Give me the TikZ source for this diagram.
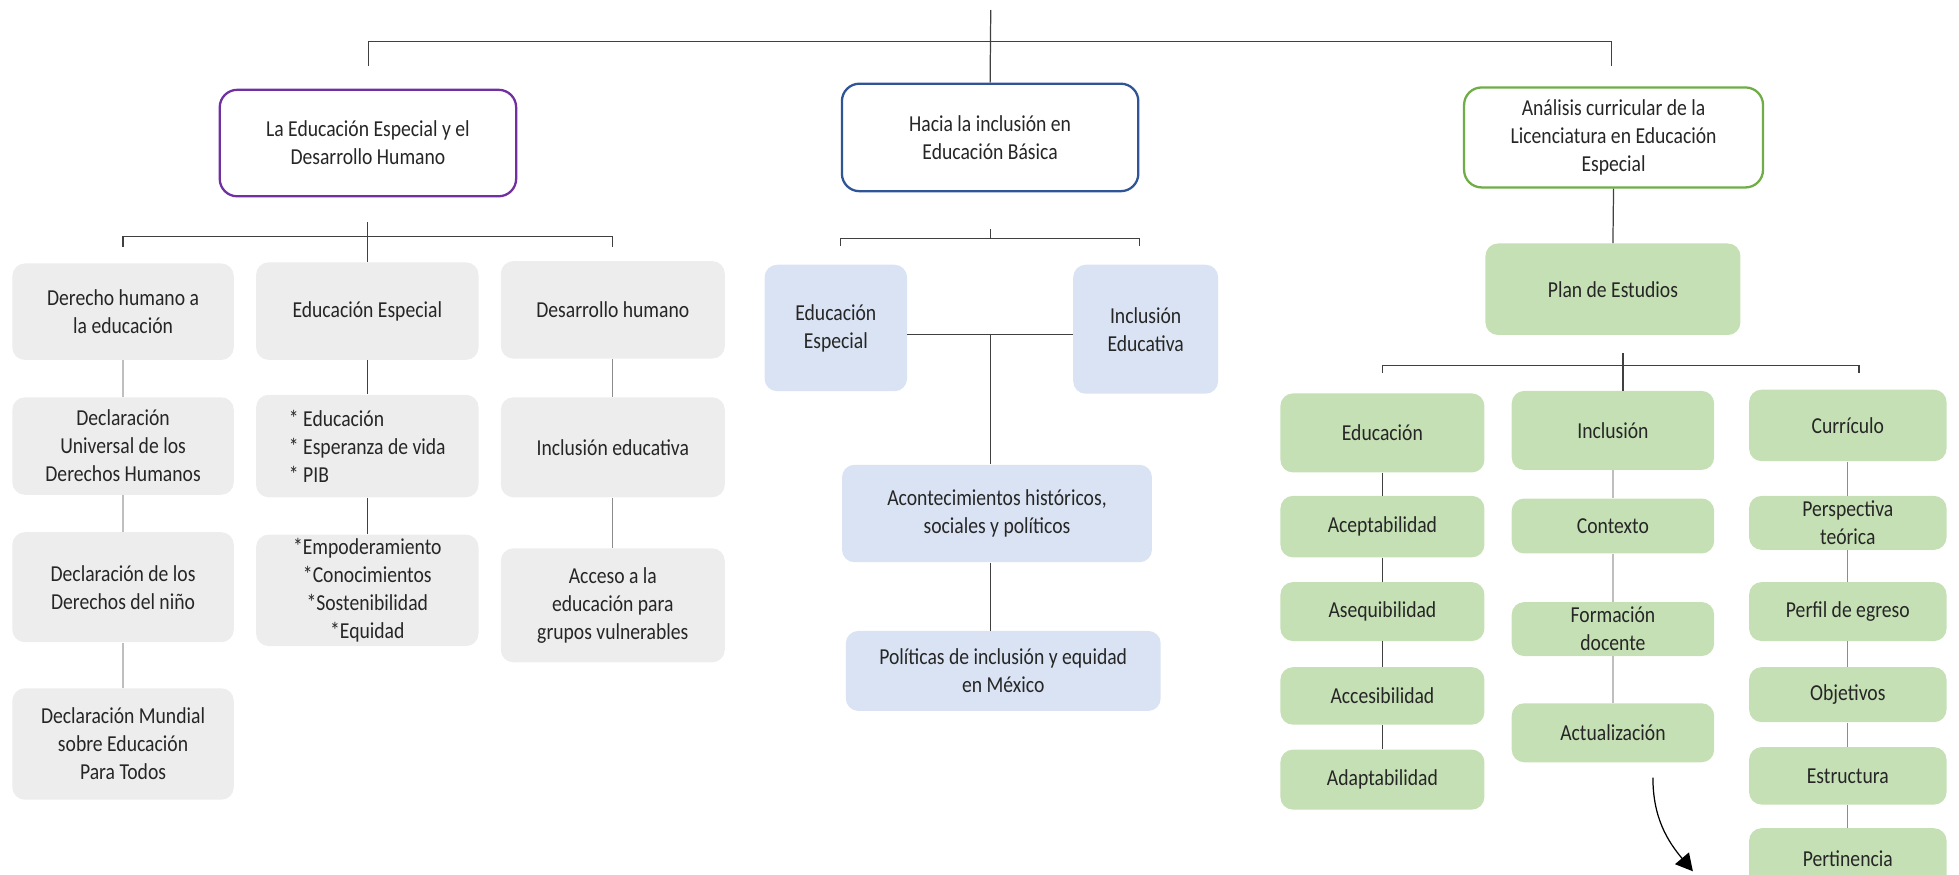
\documentclass[tikz,border=0pt]{standalone}
\usepackage{fontspec}
\setmainfont{Carlito}[FakeStretch=0.86]
\usetikzlibrary{arrows.meta}

\definecolor{grayfill}{HTML}{EDEDED}
\definecolor{bluefill}{HTML}{DAE3F3}
\definecolor{greenfill}{HTML}{C5E0B4}
\definecolor{purpleline}{HTML}{7030A0}
\definecolor{blueline}{HTML}{2F5597}
\definecolor{greenline}{HTML}{70AD47}
\definecolor{darklink}{HTML}{404040}
\definecolor{midlink}{HTML}{8C8C8C}
\definecolor{lightlink}{HTML}{BFBFBF}

\tikzset{
  box/.style={rounded corners=0.25cm, align=center, inner sep=1pt, text=black!85,
    font=\fontsize{13}{16}\selectfont},
  graybox/.style={box, fill=grayfill},
  bluebox/.style={box, fill=bluefill},
  greenbox/.style={box, fill=greenfill},
  framebox/.style={box, fill=white, line width=1.3pt, rounded corners=0.35cm},
  link/.style={draw=darklink, line width=0.7pt},
  linkmid/.style={draw=midlink, line width=0.7pt},
  linklight/.style={draw=lightlink, line width=0.7pt},
}

\begin{document}
\begin{tikzpicture}[x=0.025cm, y=-0.025cm]
    \useasboundingbox (0,0) rectangle (1568,700);
    \clip (0,0) rectangle (1568,700);

    % Three main topics
    \node[framebox, draw=purpleline, minimum width=5.93cm, minimum height=2.13cm] (edh) at (294.5,114.5) {La Educación Especial y el\\Desarrollo Humano};
    \node[framebox, draw=blueline, minimum width=5.93cm, minimum height=2.15cm] (hib) at (792.5,110) {Hacia la inclusión en\\Educación Básica};
    \node[framebox, draw=greenline, minimum width=5.98cm, minimum height=2.0cm] (acl) at (1291.5,110) {Análisis curricular de la\\Licenciatura en Educación\\Especial};

    % Top bracket
    \coordinate (top) at (793,8);
    \coordinate (barL) at (295,33);
    \coordinate (barR) at (1290,33);
    \draw[link] (top) -- (hib.north);
    \draw[link] ([yshift=-0.5cm]barL) -- (barL) -- (barR) -- ([yshift=-0.5cm]barR);

    % Left branch, gray boxes
    \node[graybox, minimum width=4.43cm, minimum height=1.93cm] (a1) at (98.5,249.5) {Derecho humano a\\la educación};
    \node[graybox, minimum width=4.43cm, minimum height=1.95cm] (a2) at (98.5,357) {Declaración\\Universal de los\\Derechos Humanos};
    \node[graybox, minimum width=4.43cm, minimum height=2.2cm] (a3) at (98.5,470) {Declaración de los\\Derechos del niño};
    \node[graybox, minimum width=4.43cm, minimum height=2.23cm] (a4) at (98.5,595.5) {Declaración Mundial\\sobre Educación\\Para Todos};
    \node[graybox, minimum width=4.45cm, minimum height=1.95cm] (b1) at (294,249) {Educación Especial};
    \node[graybox, minimum width=4.45cm, minimum height=2.05cm, align=left] (b2) at (294,357) {* Educación\\* Esperanza de vida\\* PIB};
    \node[graybox, minimum width=4.45cm, minimum height=2.23cm] (b3) at (294,472.5) {*Empoderamiento\\*Conocimientos\\*Sostenibilidad\\*Equidad};
    \node[graybox, minimum width=4.48cm, minimum height=1.95cm] (c1) at (490.5,248) {Desarrollo humano};
    \node[graybox, minimum width=4.48cm, minimum height=2.0cm] (c2) at (490.5,358) {Inclusión educativa};
    \node[graybox, minimum width=4.48cm, minimum height=2.28cm] (c3) at (490.5,484.5) {Acceso a la\\educación para\\grupos vulnerables};

    \draw[link] ([yshift=0.8cm]b1.north) -- (b1.north);
    \draw[link] ([yshift=0.33cm]a1.north) -- ([yshift=0.53cm]a1.north) -| ([yshift=0.28cm]c1.north);
    \foreach \u/\v in {a1/a2,a2/a3,a3/a4}
        \draw[linklight] (\u) -- (\v);
    \foreach \u/\v in {b1/b2,b2/b3}
        \draw[link] (\u) -- (\v);
    \foreach \u/\v in {c1/c2,c2/c3}
        \draw[linkmid] (\u) -- (\v);

    % Middle branch, blue boxes
    \node[bluebox, minimum width=2.85cm, minimum height=2.53cm] (m1) at (669,262.5) {Educación\\Especial};
    \node[bluebox, minimum width=2.9cm, minimum height=2.58cm] (m2) at (917,263.5) {Inclusión\\Educativa};
    \node[bluebox, minimum width=6.2cm, minimum height=1.95cm] (m3) at (798,411) {Acontecimientos históricos,\\sociales y políticos};
    \node[bluebox, minimum width=6.3cm, minimum height=1.6cm] (m4) at (803,537) {Políticas de inclusión y equidad\\en México};

    \draw[link] ([yshift=-0.73cm]hib.south) -- ([yshift=-0.93cm]hib.south);
    \draw[link] ([yshift=-1.08cm]hib.south west) -- ([yshift=-0.93cm]hib.south west) -- ([yshift=-0.93cm]hib.south east) -- ([yshift=-1.08cm]hib.south east);
    \coordinate (mline) at ([yshift=-0.13cm]m1.east);
    \draw[link] (mline) -- (mline -| m2.west);
    \draw[link] (mline -| hib.south) -- (m3.north -| hib.south);
    \draw[link] (m3.south -| hib.south) -- (m4.north -| hib.south);

    % Right branch, green boxes
    \node[greenbox, minimum width=5.1cm, minimum height=1.83cm] (plan) at (1291,231.5) {Plan de Estudios};
    \draw[link] (acl.south) -- (plan.north);

    \node[greenbox, minimum width=4.08cm, minimum height=1.58cm] (edu) at (1106.5,346.5) {Educación};
    \node[greenbox, minimum width=4.08cm, minimum height=1.23cm] (ace) at (1106.5,421.5) {Aceptabilidad};
    \node[greenbox, minimum width=4.08cm, minimum height=1.18cm] (ase) at (1106.5,489.5) {Asequibilidad};
    \node[greenbox, minimum width=4.08cm, minimum height=1.15cm] (acc) at (1106.5,557) {Accesibilidad};
    \node[greenbox, minimum width=4.08cm, minimum height=1.2cm] (ada) at (1106.5,624) {Adaptabilidad};

    \node[greenbox, minimum width=4.05cm, minimum height=1.58cm] (inc) at (1291,344.5) {Inclusión};
    \node[greenbox, minimum width=4.05cm, minimum height=1.1cm] (con) at (1291,421) {Contexto};
    \node[greenbox, minimum width=4.05cm, minimum height=1.08cm] (for) at (1291,503.5) {Formación\\docente};
    \node[greenbox, minimum width=4.05cm, minimum height=1.18cm] (act) at (1291,586.5) {Actualización};

    \node[greenbox, minimum width=3.95cm, minimum height=1.43cm] (cur) at (1479,340.5) {Currículo};
    \node[greenbox, minimum width=3.95cm, minimum height=1.08cm] (per) at (1479,418.5) {Perspectiva\\teórica};
    \node[greenbox, minimum width=3.95cm, minimum height=1.18cm] (pde) at (1479,489.5) {Perfil de egreso};
    \node[greenbox, minimum width=3.95cm, minimum height=1.1cm] (obj) at (1479,556) {Objetivos};
    \node[greenbox, minimum width=3.95cm, minimum height=1.15cm] (est) at (1479,621) {Estructura};
    \node[greenbox, minimum width=3.95cm, minimum height=1.23cm] (pert) at (1479,687.5) {Pertinencia};

    % Bracket below plan
    \path (plan.south) ++(8,14) coordinate (pJ);
    \draw[link] (pJ) -- (pJ |- inc.north);
    \path (plan.south) ++(0,24) coordinate (pbar);
    \path (pbar -| edu.north) coordinate (pbL);
    \path (pbar -| cur.north) ++(9,0) coordinate (pbR);
    \draw[link] ([yshift=-0.15cm]pbL) -- (pbL) -- (pbR) -- ([yshift=-0.15cm]pbR);

    \foreach \u/\v in {edu/ace,ace/ase,ase/acc,acc/ada}
        \draw[link] (\u) -- (\v);
    \foreach \u/\v in {inc/con,con/for,for/act}
        \draw[linklight] (\u) -- (\v);
    \foreach \u/\v in {cur/per,per/pde,pde/obj,obj/est,est/pert}
        \draw[linkmid] (\u) -- (\v);

    % Curved arrow below Actualizacion
    \path (act.south) ++(32,12) coordinate (arrS);
    \path (act.south) ++(64,87) coordinate (arrE);
    \draw[black, line width=0.7pt, -{Triangle[length=0.34cm,width=0.36cm]}] (arrS) to[out=-90,in=130] (arrE);
\end{tikzpicture}
\end{document}
